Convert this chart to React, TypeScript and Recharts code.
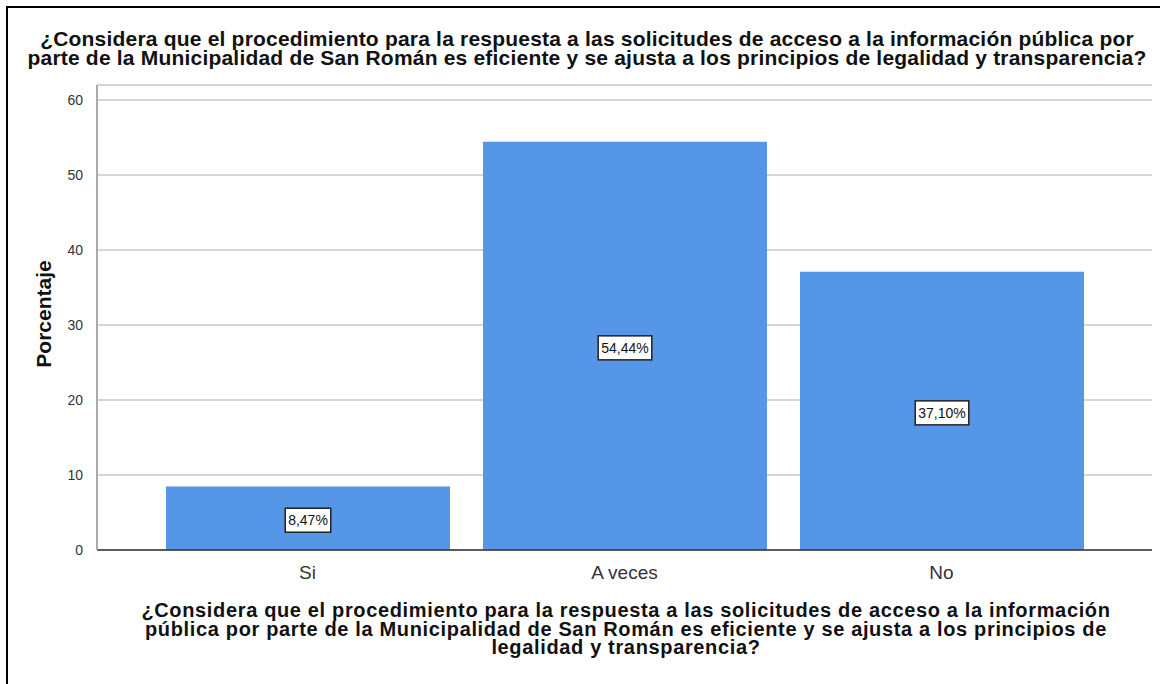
import { Bar, BarChart, CartesianGrid, LabelList, XAxis, YAxis } from "recharts";

const categories = ["Si", "A veces", "No"];
const percentages = [8.47, 54.44, 37.1];
const yTicks = [0, 10, 20, 30, 40, 50, 60];

const titleLines = [
  "¿Considera que el procedimiento para la respuesta a las solicitudes de acceso a la información pública por",
  "parte de la Municipalidad de San Román es eficiente y se ajusta a los principios de legalidad y transparencia?",
];
const xTitleLines = [
  "¿Considera que el procedimiento para la respuesta a las solicitudes de acceso a la información",
  "pública por parte de la Municipalidad de San Román es eficiente y se ajusta a los principios de",
  "legalidad y transparencia?",
];

const data = categories.map((name, i) => ({ name, value: percentages[i] }));

const font = "'Liberation Sans', Arial, sans-serif";

function BoxLabel(props: any) {
  const { x, y, width, height, value } = props;
  const text = value.toFixed(2).replace(".", ",") + "%";
  const w = text.length * 8.1 + 5;
  const h = 24;
  const cx = x + width / 2;
  const cy = y + height / 2 + 2;
  return (
    <g>
      <rect x={cx - w / 2} y={cy - h / 2} width={w} height={h} fill="#fff" stroke="#222" strokeWidth={1.5} />
      <text x={cx} y={cy + 5} textAnchor="middle" fontSize={14} fontFamily={font} fill="#111">
        {text}
      </text>
    </g>
  );
}

export default function App() {
  return (
    <div style={{ position: "absolute", left: 0, top: 0, width: 1160, height: 684, background: "#fff", fontFamily: font }}>
      <div style={{ position: "absolute", left: 6, top: 6, width: 1154, height: 678, borderLeft: "2px solid #000", borderTop: "2px solid #000" }} />
      <div
        style={{
          position: "absolute",
          left: 10,
          width: 1154,
          top: 29,
          textAlign: "center",
          fontWeight: "bold",
          fontSize: 21,
          letterSpacing: 0.2,
          lineHeight: "19px",
          color: "#111",
          whiteSpace: "nowrap",
        }}
      >
        {titleLines.map((l) => (
          <div key={l}>{l}</div>
        ))}
      </div>
      <BarChart width={1160} height={684} data={data} margin={{ top: 85, right: 8, bottom: 94, left: 37 }}>
        <CartesianGrid vertical={false} stroke="#c8c8c8" strokeWidth={1.5} />
        <XAxis
          dataKey="name"
          height={40}
          padding={{ left: 52, right: 52 }}
          tickLine={false}
          axisLine={{ stroke: "#333", strokeWidth: 1.5 }}
          tick={{ fontSize: 19, fill: "#333", fontFamily: font }}
          tickMargin={10}
        />
        <YAxis
          width={60}
          domain={[0, 62]}
          ticks={yTicks}
          tickLine={false}
          axisLine={{ stroke: "#aaa", strokeWidth: 2 }}
          tick={{ fontSize: 14, fill: "#333", fontFamily: font }}
          tickMargin={8}
        />
        <Bar dataKey="value" fill="#5596e6" barSize={284} isAnimationActive={false}>
          <LabelList dataKey="value" content={BoxLabel} />
        </Bar>
      </BarChart>
      <div
        style={{
          position: "absolute",
          left: 44,
          top: 314,
          transform: "translate(-50%, -50%) rotate(-90deg)",
          fontWeight: "bold",
          fontSize: 21,
          color: "#111",
          whiteSpace: "nowrap",
        }}
      >
        Porcentaje
      </div>
      <div
        style={{
          position: "absolute",
          left: 96,
          width: 1060,
          top: 601,
          textAlign: "center",
          fontWeight: "bold",
          fontSize: 20,
          letterSpacing: 0.65,
          lineHeight: "18.5px",
          color: "#111",
          whiteSpace: "nowrap",
        }}
      >
        {xTitleLines.map((l) => (
          <div key={l}>{l}</div>
        ))}
      </div>
    </div>
  );
}
